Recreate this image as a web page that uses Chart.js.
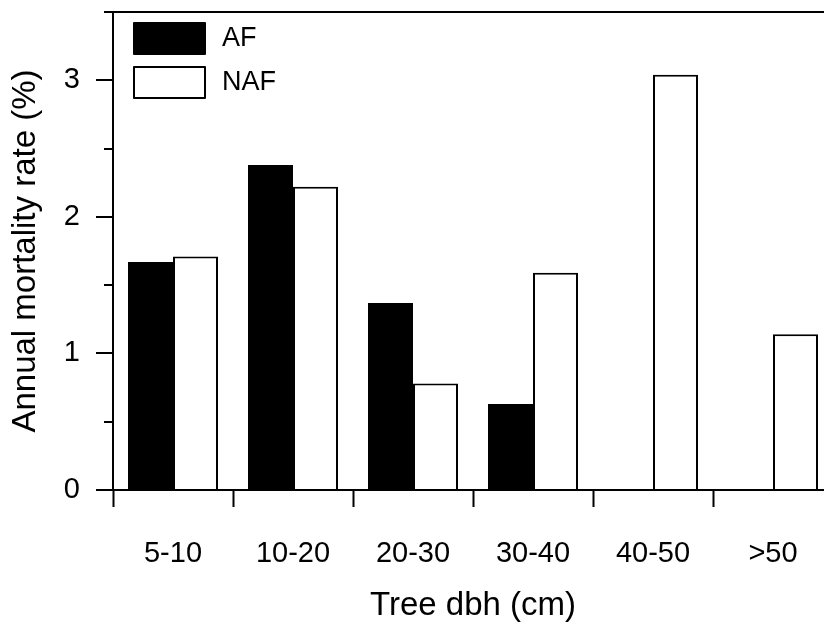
<!DOCTYPE html>
<html>
<head>
<meta charset="utf-8">
<script src="https://cdn.jsdelivr.net/npm/chart.js@4.4.1/dist/chart.umd.min.js"></script>
<style>
  html, body { margin: 0; padding: 0; background: #fff; overflow: hidden; }
</style>
</head>
<body>
<canvas id="chart" width="840" height="624"></canvas>
<script>
// dbh classes and annual mortality rates (%)
const categories = ["5-10", "10-20", "20-30", "30-40", "40-50", ">50"];
const afRates = [1.67, 2.38, 1.37, 0.63, 0, 0];
const nafRates = [1.71, 2.22, 0.78, 1.59, 3.04, 1.14];
const seriesNames = ["AF", "NAF"];

Chart.defaults.font.family = "'Liberation Sans', Arial, sans-serif";
Chart.defaults.color = "#000";

//short ticks at the half steps of the y axis
const minorTicks = {
  id: "minorTicks",
  afterDraw(chart) {
    const y = chart.scales.y;
    const ctx = chart.ctx;
    const left = chart.chartArea.left;
    ctx.save();
    ctx.strokeStyle = "#000";
    ctx.lineWidth = 2;
    y.ticks.forEach((t) => {
      if (t.value % 1 === 0) return;
      const py = Math.round(y.getPixelForValue(t.value));
      ctx.beginPath();
      ctx.moveTo(left - 9, py);
      ctx.lineTo(left, py);
      ctx.stroke();
    });
    ctx.restore();
  },
};

//legend boxes inside the plot, top left
const boxLegend = {
  id: "boxLegend",
  afterDraw(chart) {
    const { ctx, chartArea } = chart;
    ctx.save();
    ctx.font = "27px 'Liberation Sans', Arial, sans-serif";
    ctx.textBaseline = "middle";
    ctx.lineJoin = "round";
    chart.data.datasets.forEach((ds, i) => {
      const x = chartArea.left + 21;
      const y = chartArea.top + 11 + i * 44;
      ctx.fillStyle = ds.backgroundColor;
      ctx.fillRect(x, y, 71, 31);
      ctx.lineWidth = 2;
      ctx.strokeStyle = "#000";
      ctx.strokeRect(x, y, 71, 31);
      ctx.fillStyle = "#000";
      ctx.fillText(ds.label, x + 88, y + 16);
    });
    ctx.restore();
  },
};

new Chart(document.getElementById("chart"), {
  type: "bar",
  plugins: [minorTicks, boxLegend],
  data: {
    labels: categories,
    datasets: [
      {
        label: seriesNames[0],
        data: afRates,
        backgroundColor: "#000",
        borderColor: "#000",
        borderWidth: 2,
      },
      {
        label: seriesNames[1],
        data: nafRates,
        backgroundColor: "#fff",
        borderColor: "#000",
        borderWidth: 2,
      },
    ],
  },
  options: {
    responsive: false,
    animation: false,
    categoryPercentage: 0.75,
    barPercentage: 1.0,
    layout: { padding: { top: 12, right: 7, left: 0, bottom: 0 } },
    plugins: {
      legend: { display: false },
      tooltip: { enabled: false },
    },
    scales: {
      x: {
        grid: {
          offset: true,
          drawOnChartArea: false,
          tickLength: 17,
          tickWidth: 2,
          tickColor: "#000",
        },
        border: { color: "#000", width: 2 },
        ticks: { padding: 30, font: { size: 29 } },
        title: {
          display: true,
          text: "Tree dbh (cm)",
          font: { size: 33 },
          padding: { top: 0, bottom: -2 },
        },
        afterFit(scale) {
          scale.height = 134;
          scale.paddingLeft = 0;
          scale.paddingRight = 0;
        },
      },
      y: {
        min: 0,
        max: 3.5,
        ticks: {
          stepSize: 0.5,
          padding: 16,
          font: { size: 29 },
          callback: (v) => (v % 1 === 0 ? v : ""),
        },
        grid: {
          tickLength: 17,
          tickWidth: 2,
          lineWidth: 2,
          color: (c) => (c.tick && c.tick.value === 3.5 ? "#000" : "transparent"),
          tickColor: (c) => (c.tick && c.tick.value % 1 === 0 ? "#000" : "transparent"),
        },
        border: { color: "#000", width: 2 },
        title: {
          display: true,
          text: "Annual mortality rate (%)",
          font: { size: 33 },
          padding: { top: 6, bottom: 0 },
        },
        afterFit(scale) {
          scale.width = 113;
          scale.paddingTop = 0;
          scale.paddingBottom = 0;
        },
      },
    },
  },
});
</script>
</body>
</html>
